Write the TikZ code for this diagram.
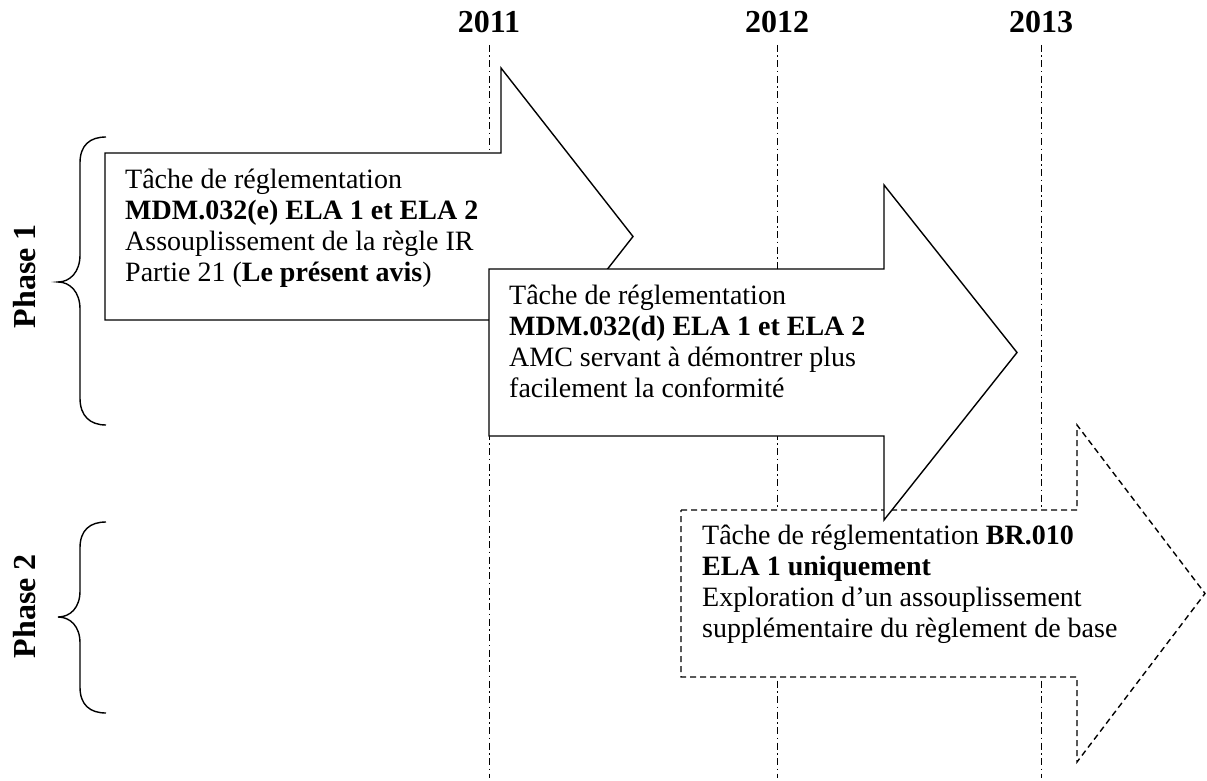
\documentclass[tikz,border=0pt]{standalone}
\usepackage{fontspec}
\setmainfont{Liberation Serif}
\begin{document}
\begin{tikzpicture}[x=1pt,y=-1pt,
  yearline/.style={line width=1pt, dash pattern=on 7pt off 3.5pt on 1.5pt off 3.5pt},
  arrowshape/.style={draw, fill=white, line width=1.4pt, line join=miter},
  dashedarrow/.style={arrowshape, dash pattern=on 6pt off 4pt},
  bodytext/.style={font=\fontsize{28}{31}\selectfont, align=left, inner sep=0pt, anchor=north west},
  yeartext/.style={font=\fontsize{32}{36}\selectfont\bfseries, anchor=base, inner sep=0pt},
  phasetext/.style={font=\fontsize{32}{36}\selectfont\bfseries, rotate=90, anchor=base, inner sep=0pt},
  bracestyle/.style={line width=1.4pt}]
\useasboundingbox (0,0) rectangle (1207,781);

% year labels
\node[yeartext] (y2011) at (489,33) {2011};
\node[yeartext] (y2012) at (777,33) {2012};
\node[yeartext] (y2013) at (1041,33) {2013};

% year lines
\coordinate (l1t) at (489,45); \coordinate (l1b) at (489,778);
\coordinate (l2t) at (777,45); \coordinate (l2b) at (777,778);
\coordinate (l3t) at (1041,45); \coordinate (l3b) at (1041,778);
\draw[yearline] (l1t) -- (l1b);
\draw[yearline] (l2t) -- (l2b);
\draw[yearline] (l3t) -- (l3b);

% arrow 3 (dashed)
\draw[dashedarrow] (681,510) -- (1077,510) -- (1077,425) -- (1205,593.5) -- (1077,762) -- (1077,677) -- (681,677) -- cycle;
% arrow 1
\draw[arrowshape] (105,153) -- (501,153) -- (501,68) -- (633,236.5) -- (501,405) -- (501,320) -- (105,320) -- cycle;
% arrow 2
\draw[arrowshape] (489,269) -- (884,269) -- (884,185) -- (1017,352.5) -- (884,520) -- (884,436) -- (489,436) -- cycle;

% texts
\node[bodytext] (t1) at (125,169) {Tâche de réglementation\\\textbf{MDM.032(e) ELA 1 et ELA 2}\\Assouplissement de la règle IR\\Partie 21 (\textbf{Le présent avis})};
\node[bodytext] (t2) at (509,285) {Tâche de réglementation\\\textbf{MDM.032(d) ELA 1 et ELA 2}\\AMC servant à démontrer plus\\facilement la conformité};
\node[bodytext] (t3) at (702,525) {Tâche de réglementation \textbf{BR.010}\\\textbf{ELA 1 uniquement}\\Exploration d’un assouplissement\\supplémentaire du règlement de base};

% braces
\draw[bracestyle] (106,137) .. controls (90,137) and (80,145) .. (80,163) -- (80,255)
  .. controls (80,272) and (70,282) .. (58,282)
  .. controls (70,282) and (80,292) .. (80,309) -- (80,398)
  .. controls (80,416) and (90,425) .. (106,425);
\draw[bracestyle] (106,522) .. controls (90,522) and (80,530) .. (80,548) -- (80,591)
  .. controls (80,608) and (70,617) .. (58,617)
  .. controls (70,617) and (80,626) .. (80,643) -- (80,687)
  .. controls (80,705) and (90,713) .. (106,713);

% phase labels
\node[phasetext] (p1) at (35,276) {Phase 1};
\node[phasetext] (p2) at (35,606) {Phase 2};
\end{tikzpicture}
\end{document}
